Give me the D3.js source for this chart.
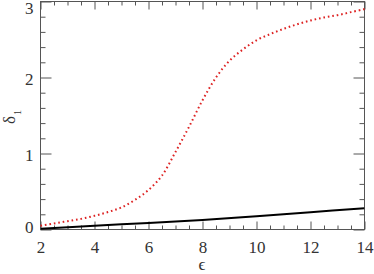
<!DOCTYPE html>
<html><head><meta charset="utf-8">
<script src="https://cdn.jsdelivr.net/npm/d3@7"></script>
<style>body{margin:0;background:#fff}svg{display:block}</style>
</head><body>
<script>
const xs = [2,2.5,3,3.5,4,4.5,5,5.5,6,6.5,7,7.5,8,8.5,9,9.5,10,10.5,11,11.5,12,12.5,13,13.5,14];
const redVals = [0.05,0.08,0.11,0.14,0.18,0.23,0.29,0.39,0.52,0.71,1.02,1.35,1.70,2.00,2.22,2.37,2.49,2.57,2.64,2.70,2.75,2.79,2.82,2.86,2.90];
const blackX = [2,4,6,8,10,12,14];
const blackVals = [0.01,0.05,0.085,0.125,0.175,0.227,0.28];
const xMajor = [2,4,6,8,10,12,14];
const yMajor = [0,1,2,3];
const xLabel = "ϵ";

const W=374,H=274;
const L=40.5,R=364.5,T=1.5,B=229.5;
const FONT='"Liberation Serif"';
const svg=d3.select("body").append("svg").attr("width",W).attr("height",H);
const x=d3.scaleLinear().domain([2,14]).range([L,R]);
const y=d3.scaleLinear().domain([0,3]).range([B,T]);
const xMinor=d3.range(2,14.001,0.5).filter(v=>!xMajor.includes(v));
const yMinor=d3.range(0,3.001,0.2).map(v=>+v.toFixed(1)).filter(v=>!yMajor.includes(v));
const axCol="#555";
function style(g){g.select(".domain").remove();g.selectAll("line").attr("stroke",axCol).attr("stroke-width",1);
  g.selectAll("text").style("font-family",FONT).style("font-size","17px").attr("fill","#333");}
// bottom
svg.append("g").attr("transform",`translate(0,${B})`).call(d3.axisBottom(x).tickValues(xMinor).tickSize(-4).tickFormat("")).call(style);
const bx=svg.append("g").attr("transform",`translate(0,${B})`).call(d3.axisBottom(x).tickValues(xMajor).tickSize(-8).tickPadding(11).tickFormat(d3.format("d"))).call(style);
// top
svg.append("g").attr("transform",`translate(0,${T})`).call(d3.axisTop(x).tickValues(xMinor).tickSize(-4).tickFormat("")).call(style);
svg.append("g").attr("transform",`translate(0,${T})`).call(d3.axisTop(x).tickValues(xMajor).tickSize(-8).tickFormat("")).call(style);
// left
svg.append("g").attr("transform",`translate(${L},0)`).call(d3.axisLeft(y).tickValues(yMinor).tickSize(-5).tickFormat("")).call(style);
const ly=svg.append("g").attr("transform",`translate(${L},0)`).call(d3.axisLeft(y).tickValues(yMajor).tickSize(-11).tickPadding(7).tickFormat(d3.format("d"))).call(style);
// right
svg.append("g").attr("transform",`translate(${R},0)`).call(d3.axisRight(y).tickValues(yMinor).tickSize(-5).tickFormat("")).call(style);
svg.append("g").attr("transform",`translate(${R},0)`).call(d3.axisRight(y).tickValues(yMajor).tickSize(-11).tickFormat("")).call(style);
// frame
svg.append("rect").attr("x",L).attr("y",T).attr("width",R-L).attr("height",B-T).attr("fill","none").attr("stroke",axCol).attr("stroke-width",1);

ly.selectAll(".tick text").attr("dy",null).attr("dominant-baseline","central")
  .attr("transform",d=> d===0?"translate(0,-3)": d===3?"translate(0,6)":"translate(0,1)");
bx.selectAll(".tick text").attr("dy","0.71em");

// data
svg.append("clipPath").attr("id","c").append("rect").attr("x",L).attr("y",T-2).attr("width",R-L).attr("height",B-T+3);
const line=d3.line().x(d=>x(d[0])).y(d=>y(d[1])).curve(d3.curveCatmullRom.alpha(0.5));
svg.append("path").datum(xs.map((v,i)=>[v,redVals[i]])).attr("d",line)
  .attr("fill","none").attr("stroke","#dd2222").attr("stroke-width",2).attr("stroke-dasharray","1.6,2.9");
svg.append("path").datum(blackX.map((v,i)=>[v,blackVals[i]])).attr("d",line).attr("clip-path","url(#c)")
  .attr("fill","none").attr("stroke","#000").attr("stroke-width",2);

// labels
svg.append("text").attr("x",202).attr("y",270).attr("text-anchor","middle")
  .style("font-family",FONT).style("font-size","17px").attr("fill","#333").text(xLabel);
const yl=svg.append("text").attr("transform","translate(15,124) rotate(-90)")
  .style("font-family",FONT).style("font-size","17px").attr("fill","#333");
yl.append("tspan").text("δ");
yl.append("tspan").attr("dy",6).attr("dx",1).style("font-size","10px").text("1");
</script>
</body></html>
